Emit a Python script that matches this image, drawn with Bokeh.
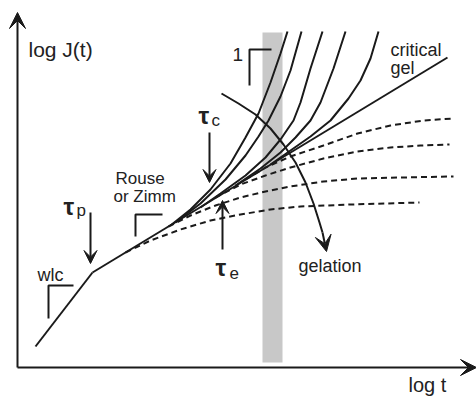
from bokeh.plotting import figure
from bokeh.models import Range1d, Arrow, VeeHead, Label
from bokeh.embed import file_html
from bokeh.resources import INLINE

# ---- schematic data (x = log t, y = log J, origin at the axes corner) ----
wlc_t = [18, 75]
wlc_J = [21, 95]

critical_gel_t = [75, 430]
critical_gel_J = [95, 310]

# sol-side curves (solid), steepest first
sol1_t = [153, 173, 193, 213, 228, 241, 253, 263, 270]
sol1_J = [142, 158, 178, 204, 230, 254, 285, 314, 336]
sol2_t = [158, 183, 208, 228, 241, 251, 263, 273, 284]
sol2_J = [145, 164, 188, 212, 231, 247, 271, 297, 336]
sol3_t = [183, 203, 228, 248, 263, 276, 283, 293, 305]
sol3_J = [160, 174, 192, 210, 228, 247, 265, 299, 336]
sol4_t = [218, 243, 263, 278, 293, 303, 316, 328]
sol4_J = [182, 199, 215, 230, 247, 265, 299, 336]
sol5_t = [253, 273, 293, 313, 331, 343, 353, 361]
sol5_J = [203, 217, 231, 247, 269, 287, 309, 336]

# gel-side curves (dashed), top first
gel1_t = [228, 248, 273, 306, 340, 373, 406, 436]
gel1_J = [188, 200, 211, 222, 234, 242, 247, 249]
gel2_t = [198, 223, 248, 273, 306, 340, 373, 403, 432]
gel2_J = [170, 183, 192, 200, 209, 216, 220, 222, 223]
gel3_t = [151, 173, 198, 223, 248, 273, 306, 340, 383, 436]
gel3_J = [141, 152, 162, 170, 176, 181, 186, 189, 190, 191]
gel4_t = [108, 133, 163, 193, 223, 253, 283, 333, 402]
gel4_J = [115, 127, 138, 147, 153, 158, 161, 163, 165]

# gelation path arrow
gelation_t = [204, 221, 238, 253, 266, 278, 288, 296, 302, 305]
gelation_J = [274, 264, 253, 239, 223, 205, 185, 164, 145, 135]
gelation_tip = (309, 116)

# gray time window
band_t = (245, 265)
band_J = (5, 335)

# slope markers: corner (t, J), lower end of vertical stroke, right end of horizontal stroke
slope_marks = [((31, 82), 49, 56), ((118, 153), 131, 145), ((232, 318), 282, 254)]

# time-scale arrows: (t, J_start, J_end)
tau_arrows = [(73, 155, 104), (192, 235, 185), (205, 118, 167)]

INK = "#1a1a1a"
TXT = "#222222"
FONT = "Liberation Sans"

p = figure(width=476, height=396, x_range=Range1d(-17, 459), y_range=Range1d(-29, 367),
           output_backend="svg", toolbar_location=None, min_border=0)
p.axis.visible = False
p.grid.visible = False
p.outline_line_color = None
p.background_fill_color = "white"
p.border_fill_color = "white"

p.quad(left=band_t[0], right=band_t[1], bottom=band_J[0], top=band_J[1],
       fill_color="#c8c8c8", line_color=None)

# axes with arrows
p.add_layout(Arrow(x_start=0, y_start=0, x_end=0, y_end=355, line_width=2, line_color=INK,
                   end=VeeHead(size=16, fill_color=INK, line_color=INK)))
p.add_layout(Arrow(x_start=0, y_start=0, x_end=459, y_end=0, line_width=2, line_color=INK,
                   end=VeeHead(size=16, fill_color=INK, line_color=INK)))

p.line(wlc_t, wlc_J, line_color=INK, line_width=2)
p.line(critical_gel_t, critical_gel_J, line_color=INK, line_width=2)
for xs, ys in [(sol1_t, sol1_J), (sol2_t, sol2_J), (sol3_t, sol3_J), (sol4_t, sol4_J), (sol5_t, sol5_J)]:
    p.line(xs, ys, line_color=INK, line_width=2)
for xs, ys in [(gel1_t, gel1_J), (gel2_t, gel2_J), (gel3_t, gel3_J), (gel4_t, gel4_J)]:
    p.line(xs, ys, line_color=INK, line_width=2, line_dash="6 4")

p.line(gelation_t, gelation_J, line_color=INK, line_width=2)
p.add_layout(Arrow(x_start=gelation_t[-1], y_start=gelation_J[-1], x_end=gelation_tip[0], y_end=gelation_tip[1],
                   line_width=2, line_color=INK, end=VeeHead(size=16, fill_color=INK, line_color=INK)))

for (cx, cy), vy, hx in slope_marks:
    p.line([cx, cx, hx], [vy, cy, cy], line_color=INK, line_width=2)

for tx, y0, y1 in tau_arrows:
    p.add_layout(Arrow(x_start=tx, y_start=y0, x_end=tx, y_end=y1, line_width=2, line_color=INK,
                       end=VeeHead(size=13, fill_color=INK, line_color=INK)))

def lab(x, y, text, size, style="normal"):
    p.add_layout(Label(x=x, y=y, text=text, text_font=FONT, text_font_size=f"{size}px",
                       text_font_style=style, text_color=TXT,
                       text_baseline="alphabetic", text_align="left"))

lab(11, 318, "log J(t)", 21)
lab(391, -17, "log t", 20)
lab(373, 318, "critical", 18)
lab(373, 300, "gel", 18)
lab(98, 189, "Rouse", 17)
lab(96, 171, "or Zimm", 17)
lab(20, 93, "wlc", 18)
lab(281, 102, "gelation", 18)
lab(215, 313, "1", 19)
lab(46, 161, "τ", 24, "bold")
lab(59, 157, "p", 17)
lab(181, 252, "τ", 24, "bold")
lab(194, 247, "c", 17)
lab(198, 100, "τ", 24, "bold")
lab(212, 95, "e", 17)

open("out.html", "w").write(file_html(p, INLINE))
